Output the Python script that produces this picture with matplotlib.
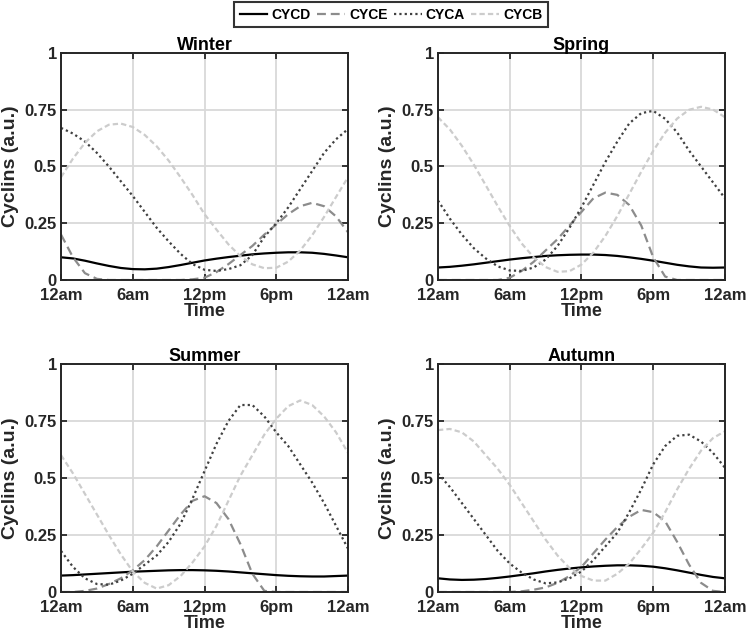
import matplotlib
matplotlib.use('Agg')
import matplotlib.pyplot as plt

plt.rcParams['font.family'] = ['Liberation Sans', 'DejaVu Sans']
plt.rcParams['font.weight'] = 'bold'

hours = list(range(25))
seasons = ['Winter', 'Spring', 'Summer', 'Autumn']

# values read hour by hour off each panel (0 = 12am ... 24 = 12am next day)
cycd = {
    'Winter': [0.100, 0.095, 0.085, 0.073, 0.062, 0.053, 0.048, 0.047, 0.050, 0.057, 0.066, 0.076, 0.086,
               0.094, 0.101, 0.107, 0.113, 0.117, 0.120, 0.122, 0.122, 0.120, 0.115, 0.108, 0.100],
    'Spring': [0.055, 0.058, 0.063, 0.069, 0.076, 0.083, 0.090, 0.096, 0.101, 0.106, 0.109, 0.111, 0.112,
               0.112, 0.110, 0.106, 0.100, 0.093, 0.085, 0.076, 0.067, 0.060, 0.055, 0.054, 0.055],
    'Summer': [0.072, 0.074, 0.077, 0.080, 0.083, 0.086, 0.089, 0.091, 0.093, 0.095, 0.096, 0.096, 0.095,
               0.093, 0.090, 0.086, 0.082, 0.078, 0.074, 0.071, 0.069, 0.068, 0.068, 0.070, 0.072],
    'Autumn': [0.060, 0.055, 0.053, 0.054, 0.057, 0.062, 0.068, 0.075, 0.082, 0.090, 0.097, 0.103, 0.108,
               0.112, 0.115, 0.117, 0.117, 0.115, 0.111, 0.104, 0.095, 0.085, 0.075, 0.066, 0.060],
}
cyce = {
    'Winter': [0.20, 0.10, 0.03, 0.005, 0, 0, 0, 0, 0, 0, 0, 0.003, 0.01,
               0.035, 0.07, 0.11, 0.15, 0.20, 0.245, 0.29, 0.325, 0.34, 0.325, 0.28, 0.21],
    'Spring': [0, 0, 0, 0, 0, 0, 0.01, 0.04, 0.08, 0.13, 0.18, 0.24, 0.30,
               0.36, 0.385, 0.375, 0.33, 0.24, 0.10, 0.015, 0, 0, 0, 0, 0],
    'Summer': [0, 0, 0.005, 0.015, 0.035, 0.06, 0.095, 0.14, 0.20, 0.27, 0.34, 0.40, 0.42,
               0.39, 0.32, 0.21, 0.08, 0.005, 0, 0, 0, 0, 0, 0, 0],
    'Autumn': [0, 0, 0, 0, 0, 0, 0, 0.003, 0.01, 0.02, 0.04, 0.07, 0.11,
               0.17, 0.23, 0.285, 0.33, 0.36, 0.35, 0.31, 0.22, 0.12, 0.04, 0.005, 0],
}
cyca = {
    'Winter': [0.67, 0.645, 0.61, 0.56, 0.50, 0.435, 0.37, 0.30, 0.23, 0.17, 0.115, 0.07, 0.045,
               0.04, 0.048, 0.065, 0.11, 0.19, 0.25, 0.32, 0.40, 0.48, 0.56, 0.62, 0.665],
    'Spring': [0.35, 0.27, 0.20, 0.14, 0.095, 0.06, 0.042, 0.04, 0.055, 0.09, 0.15, 0.23, 0.32,
               0.42, 0.52, 0.61, 0.69, 0.735, 0.745, 0.71, 0.65, 0.57, 0.50, 0.43, 0.36],
    'Summer': [0.18, 0.11, 0.06, 0.035, 0.032, 0.05, 0.08, 0.12, 0.16, 0.22, 0.30, 0.41, 0.53,
               0.65, 0.75, 0.82, 0.82, 0.77, 0.70, 0.64, 0.56, 0.48, 0.39, 0.29, 0.19],
    'Autumn': [0.52, 0.46, 0.39, 0.32, 0.25, 0.18, 0.125, 0.085, 0.055, 0.038, 0.042, 0.06, 0.09,
               0.14, 0.20, 0.26, 0.35, 0.45, 0.56, 0.64, 0.685, 0.69, 0.66, 0.61, 0.545],
}
cycb = {
    'Winter': [0.453, 0.535, 0.604, 0.655, 0.684, 0.689, 0.674, 0.639, 0.589, 0.526, 0.452, 0.374, 0.29,
               0.222, 0.157, 0.105, 0.069, 0.052, 0.054, 0.081, 0.13, 0.197, 0.278, 0.366, 0.453],
    'Spring': [0.717, 0.663, 0.591, 0.508, 0.417, 0.325, 0.238, 0.161, 0.10, 0.057, 0.036, 0.039, 0.068,
               0.121, 0.194, 0.282, 0.379, 0.477, 0.569, 0.649, 0.711, 0.75, 0.763, 0.751, 0.717],
    'Summer': [0.60, 0.52, 0.43, 0.34, 0.25, 0.165, 0.09, 0.04, 0.015, 0.03, 0.07, 0.13, 0.20,
               0.29, 0.40, 0.51, 0.60, 0.69, 0.76, 0.815, 0.84, 0.82, 0.77, 0.70, 0.61],
    'Autumn': [0.71, 0.715, 0.70, 0.66, 0.60, 0.54, 0.47, 0.39, 0.31, 0.23, 0.16, 0.105, 0.07,
               0.05, 0.05, 0.08, 0.125, 0.19, 0.26, 0.35, 0.45, 0.54, 0.62, 0.675, 0.705],
}

xticks = [0, 6, 12, 18, 24]
xticklabels = ['12am', '6am', '12pm', '6pm', '12am']
yticks = [0, 0.25, 0.5, 0.75, 1]
yticklabels = ['0', '0.25', '0.5', '0.75', '1']

fig = plt.figure(figsize=(7.47, 6.4), dpi=100)
boxes = [
    [0.0817, 0.5625, 0.3842, 0.3547],
    [0.5863, 0.5625, 0.3842, 0.3547],
    [0.0817, 0.0750, 0.3842, 0.3563],
    [0.5863, 0.0750, 0.3842, 0.3563],
]
dark = '#262626'

for season, box in zip(seasons, boxes):
    ax = fig.add_axes(box)
    ax.plot(hours, cycd[season], color='black', lw=1.6, label='CYCD')
    ax.plot(hours, cyce[season], color='#8c8c8c', lw=1.6, dashes=(4, 2.2), label='CYCE')
    ax.plot(hours, cyca[season], color='#404040', lw=1.6, dashes=(1, 1.4), label='CYCA')
    ax.plot(hours, cycb[season], color='#cccccc', lw=1.6, dashes=(2.4, 1.4), label='CYCB')
    ax.set_xlim(0, 24)
    ax.set_ylim(0, 1)
    ax.set_xticks(xticks)
    ax.set_xticklabels(xticklabels)
    ax.set_yticks(yticks)
    ax.set_yticklabels(yticklabels)
    ax.grid(True, color='#d9d9d9', lw=1.3)
    ax.set_axisbelow(True)
    ax.tick_params(direction='in', length=4, width=1.3, top=True, right=True,
                   labelsize=12, colors=dark)
    ax.tick_params(axis='x', pad=6)
    ax.tick_params(axis='y', pad=3)
    for sp in ax.spines.values():
        sp.set_color(dark)
        sp.set_linewidth(1.4)
    ax.set_title(season, fontsize=13, fontweight='bold', pad=2)
    ax.set_xlabel('Time', fontsize=13, fontweight='bold', color=dark, labelpad=0)
    ax.set_ylabel('Cyclins (a.u.)', fontsize=14, fontweight='bold', color=dark, labelpad=4)
    if season == 'Winter':
        handles, labels = ax.get_legend_handles_labels()

leg = fig.legend(handles, labels, loc='upper center', bbox_to_anchor=(0.5234, 1.0), ncol=4,
                 fontsize=10, frameon=True, fancybox=False, handlelength=2.0, handletextpad=0.3,
                 columnspacing=0.45, borderpad=0.4, borderaxespad=0.15)
leg.get_frame().set_edgecolor('black')
leg.get_frame().set_linewidth(1.5)

fig.savefig('out.png', dpi=100)
